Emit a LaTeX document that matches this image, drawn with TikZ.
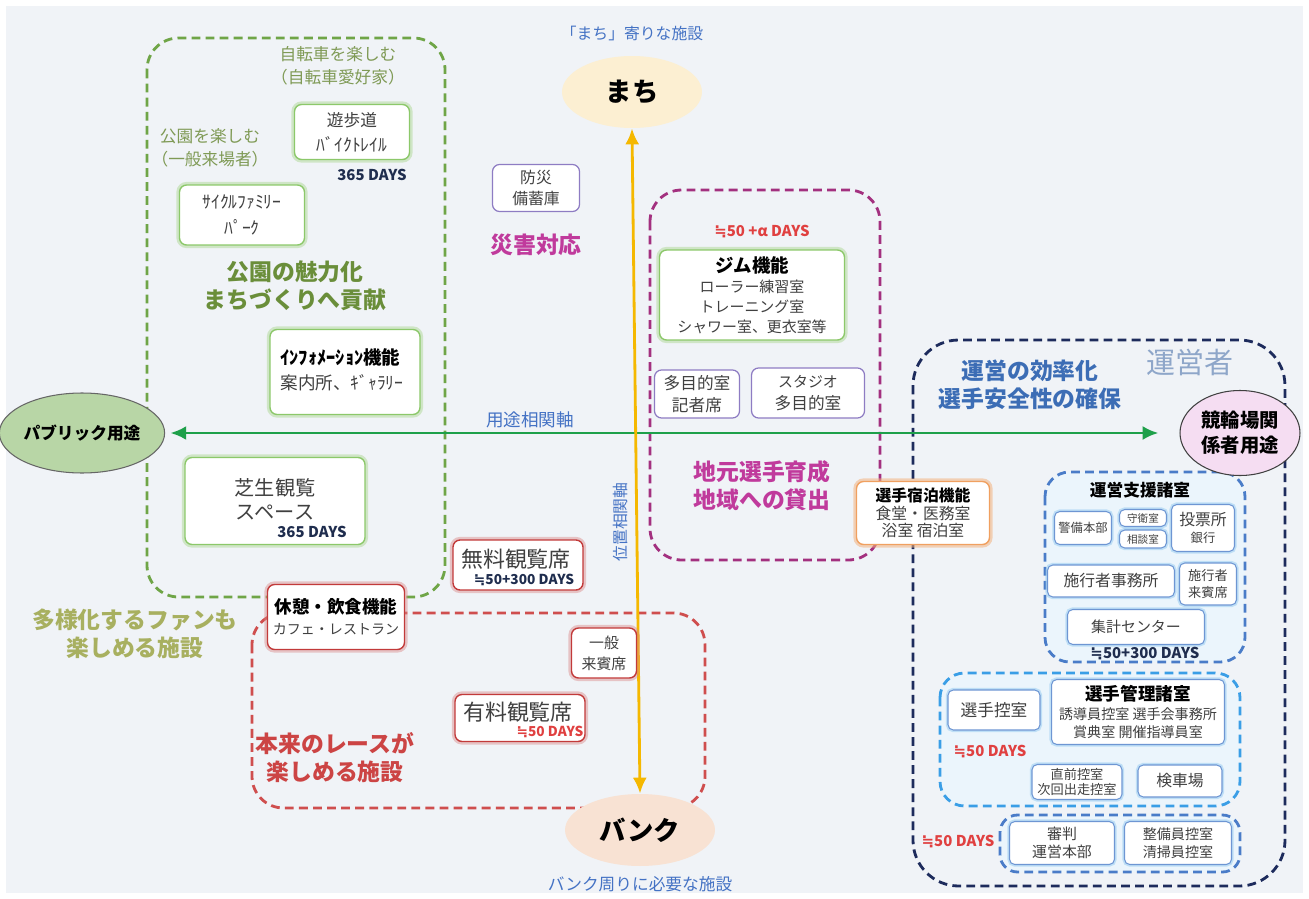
\documentclass[tikz,border=0pt]{standalone}
\usepackage{fontspec}
\setmainfont{Noto Sans CJK JP}
\newfontfamily\symfont{DejaVu Sans}
\usetikzlibrary{shapes.geometric,arrows.meta}

\definecolor{bgc}{HTML}{F0F3F7}
\definecolor{grpG}{HTML}{6FA547}
\definecolor{grpM}{HTML}{A3307F}
\definecolor{grpR}{HTML}{CF4E4E}
\definecolor{grpN}{HTML}{1D2B5C}
\definecolor{grpB}{HTML}{4A7CC8}
\definecolor{grpL}{HTML}{3A9EE6}
\definecolor{glowG}{HTML}{8CC86A}
\definecolor{glowR}{HTML}{C23A3A}
\definecolor{glowO}{HTML}{F0A060}
\definecolor{glowP}{HTML}{8E7CC3}
\definecolor{txtgray}{HTML}{404040}
\definecolor{txtolive}{HTML}{7F9A55}
\definecolor{txtparkG}{HTML}{6A8E3A}
\definecolor{txtkhaki}{HTML}{A8B060}
\definecolor{txtred}{HTML}{CC4444}
\definecolor{txtmag}{HTML}{C03A9C}
\definecolor{txtblue}{HTML}{3C6DB5}
\definecolor{txtaxis}{HTML}{4472C4}
\definecolor{txtop}{HTML}{8EA6C9}
\definecolor{txtnavy}{HTML}{1F2D4E}
\definecolor{daysred}{HTML}{E04040}
\definecolor{arrG}{HTML}{1EA04A}
\definecolor{arrO}{HTML}{F5B800}
\definecolor{machiF}{HTML}{FCEFD2}
\definecolor{bankF}{HTML}{F8E2D3}
\definecolor{publicF}{HTML}{B8D6A6}
\definecolor{staffF}{HTML}{F5DDF2}

\newcommand{\fsz}[1]{\fontsize{#1}{\fpeval{#1*1.3}}\selectfont}
\newcommand{\nearly}{{\symfont ≒}}

\tikzset{
  box/.style={rounded corners=4pt, fill=white, align=center, inner sep=1pt, text=txtgray, font=\fsz{9}},
  gbox/.style={box, draw=glowG, line width=0.8pt, preaction={draw=glowG!70, line width=3.5pt, opacity=0.5}},
  rbox/.style={box, draw=glowR, line width=0.8pt, preaction={draw=glowR!60, line width=3.5pt, opacity=0.45}},
  obox/.style={box, draw=glowO, line width=0.8pt, preaction={draw=glowO!80, line width=3.5pt, opacity=0.55}},
  pbox/.style={box, draw=glowP, line width=0.7pt},
  bbox/.style={box, rounded corners=3pt, draw=grpB!80, line width=0.6pt, preaction={draw=grpL!60, line width=2.5pt, opacity=0.45}},
  grp/.style={dash pattern=on 5pt off 3pt, line width=1.6pt, rounded corners=18pt},
  oval/.style={ellipse, draw=gray!80!black, line width=0.6pt, inner sep=0pt, align=center},
  lbl/.style={align=center, inner sep=0pt},
  head/.style={lbl, font=\bfseries\fontsize{13}{16}\selectfont},
  days/.style={lbl, font=\bfseries\fsz{8.5}, text=txtnavy},
  rdays/.style={lbl, font=\bfseries\fsz{8.5}, text=daysred},
  axisarrow/.style={{Latex[length=9pt,width=8pt]}-{Latex[length=9pt,width=8pt]}, line width=1.6pt}
}

\begin{document}
\begin{tikzpicture}[x=0.02cm, y=-0.02cm]
\useasboundingbox (0,0) rectangle (1309,899);
\fill[white] (0,0) rectangle (1309,899);
\fill[bgc] (6,6) rectangle (1303,893);

% group frames
\draw[grp, draw=grpG] (147,38) rectangle (445,597);
\draw[grp, draw=grpM] (650,190) rectangle (880,560);
\draw[grp, draw=grpR] (252,613) rectangle (705,808);
\draw[grp, draw=grpN, rounded corners=26pt] (913,340) rectangle (1285,886);
\draw[grp, draw=grpB, fill=grpL!10, rounded corners=14pt] (1045,472) rectangle (1245,662);
\draw[grp, draw=grpL, fill=grpL!10, rounded corners=14pt] (940,673) rectangle (1240,806);
\draw[grp, draw=grpB, fill=grpL!10, rounded corners=10pt] (1000,815) rectangle (1240,872);

% ovals
\node[oval, fill=publicF, minimum width=3.0cm, minimum height=1.6cm, font=\bfseries\fsz{9.5}] (public) at (82,433) {パブリック用途};
\node[oval, draw=gray!50!black, fill=staffF, minimum width=2.4cm, minimum height=1.7cm, font=\bfseries\fsz{11}] (staff) at (1240,433) {競輪場関\\係者用途};
\node[oval, draw=none, fill=machiF, minimum width=2.8cm, minimum height=1.44cm, font=\bfseries\fsz{15}] (machi) at (632,92) {まち};
\node[oval, draw=none, fill=bankF, minimum width=3.0cm, minimum height=1.44cm, font=\bfseries\fsz{15}] (bank) at (640,830) {バンク};

% axes
\draw[axisarrow, draw=arrG, fill=arrG, shorten <=3pt, shorten >=12pt] (public.east) -- (staff.west);
\draw[axisarrow, draw=arrO, fill=arrO] (machi.south) -- (bank.north);
\node[lbl, text=txtaxis, font=\fsz{10}] (useaxis) at (530,420) {用途相関軸};
\node[lbl, text=txtaxis, font=\fsz{9}, rotate=90] (posaxis) at (620,522) {位置相関軸};
\node[lbl, text=txtaxis, font=\fsz{9}] (machitag) at (632,33) {「まち」寄りな施設};
\node[lbl, text=txtaxis, font=\fsz{9.5}] (banktag) at (640,884) {バンク周りに必要な施設};

% park side
\node[lbl, text=txtolive, font=\fontsize{9.5}{13}\selectfont] (bikefan) at (338,66) {自転車を楽しむ\\（自転車愛好家）};
\node[lbl, text=txtolive, font=\fontsize{9.5}{13}\selectfont] (parkfan) at (210,148) {公園を楽しむ\\（一般来場者）};
\node[gbox, minimum width=2.3cm, minimum height=1.1cm, font=\fontsize{9.5}{14}\selectfont] (walk) at (352,132) {遊歩道\\{\fsz{10}ﾊﾞｲｸﾄﾚｲﾙ}};
\node[days] (walkdays) at (372,175) {365 DAYS};
\node[gbox, minimum width=2.5cm, minimum height=1.2cm, font=\fontsize{10}{15}\selectfont] (cycle) at (242,215) {ｻｲｸﾙﾌｧﾐﾘｰ\\ﾊﾟｰｸ};
\node[head, text=txtparkG] (parkhead) at (295,286) {公園の魅力化\\まちづくりへ貢献};
\node[gbox, minimum width=3.0cm, minimum height=1.7cm] (info) at (345,372) {};
\node[lbl, align=left, text=txtgray, font=\fontsize{10}{14.5}\selectfont] (infotxt) at (342,370) {{\bfseries\color{black}\fsz{10.5}ｲﾝﾌｫﾒｰｼｮﾝ機能}\\案内所、ｷﾞｬﾗﾘｰ};
\node[gbox, minimum width=3.6cm, minimum height=1.74cm] (lawn) at (275,501) {};
\node[lbl, text=txtgray, font=\fontsize{11.5}{13.6}\selectfont] (lawntxt) at (275,499) {芝生観覧\\スペース};
\node[days] (lawndays) at (312,532) {365 DAYS};
\node[head, text=txtkhaki] (fanhead) at (135,634) {多様化するファンも\\楽しめる施設};

% disaster
\node[pbox, minimum width=1.74cm, minimum height=0.94cm, font=\fontsize{9}{12}\selectfont] (bousai) at (536,188) {防災\\備蓄庫};
\node[head, text=txtmag] (disaster) at (536,245) {災害対応};

% local players
\node[rdays] (gymdays) at (762,232) {\nearly 50 +α DAYS};
\node[gbox, minimum width=3.7cm, minimum height=1.8cm, font=\fontsize{8.5}{11.3}\selectfont] (gym) at (752,295) {{\bfseries\color{black}\fsz{10.5}ジム機能}\\ローラー練習室\\トレーニング室\\シャワー室、更衣室等};
\node[pbox, minimum width=1.7cm, minimum height=0.96cm, font=\fontsize{9.5}{12.5}\selectfont] (multi) at (697,394) {多目的室\\記者席};
\node[pbox, minimum width=2.26cm, minimum height=1.0cm, font=\fontsize{9.5}{12.5}\selectfont] (studio) at (808,393) {{\fsz{8.5}スタジオ}\\多目的室};
\node[head, text=txtmag] (local) at (762,486) {地元選手育成\\地域への貸出};
\node[obox, minimum width=2.66cm, minimum height=1.26cm, font=\fontsize{9}{10}\selectfont] (lodge) at (923,513) {{\bfseries\color{black}選手宿泊機能}\\食堂・医務室\\浴室\ 宿泊室};

% race side
\node[rbox, minimum width=2.74cm, minimum height=1.3cm, font=\fontsize{8}{12}\selectfont] (rest) at (336,617) {{\bfseries\color{black}\fsz{10}休憩・飲食機能}\\カフェ・レストラン};
\node[rbox, minimum width=2.6cm, minimum height=1.0cm] (free) at (518,565) {};
\node[lbl, text=txtgray, font=\fsz{12.5}] (freetxt) at (516,559) {無料観覧席};
\node[days, font=\bfseries\fsz{7.8}] (freedays) at (524,580) {\nearly 50+300 DAYS};
\node[rbox, minimum width=1.3cm, minimum height=1.0cm, font=\fontsize{8.5}{12}\selectfont] (guest) at (604,653) {一般\\来賓席};
\node[rbox, minimum width=2.6cm, minimum height=0.94cm] (paid) at (520,718) {};
\node[lbl, text=txtgray, font=\fsz{12.5}] (paidtxt) at (518,712) {有料観覧席};
\node[rdays, font=\bfseries\fsz{7.8}] (paiddays) at (550,732) {\nearly 50 DAYS};
\node[head, text=txtred] (racehead) at (335,758) {本来のレースが\\楽しめる施設};

% operator side
\node[head, text=txtblue] (opeff) at (1030,385) {運営の効率化\\選手安全性の確保};
\node[lbl, text=txtop, font=\fsz{16.5}] (operator) at (1190,362) {運営者};

\node[lbl, font=\bfseries\fsz{9.5}, text=black] (suptitle) at (1140,490) {運営支援諸室};
\node[bbox, minimum width=1.14cm, minimum height=0.66cm, font=\fsz{7}] (keibi) at (1083,528) {警備本部};
\node[bbox, minimum width=0.94cm, minimum height=0.34cm, font=\fsz{6}] (shuei) at (1143,518) {守衛室};
\node[bbox, minimum width=0.94cm, minimum height=0.36cm, font=\fsz{6}] (soudan) at (1143,539) {相談室};
\node[bbox, minimum width=1.26cm, minimum height=0.94cm, font=\fsz{9}] (vote) at (1203,528) {投票所\\[-2pt]{\fsz{7}銀行}};
\node[bbox, minimum width=2.54cm, minimum height=0.64cm, font=\fsz{9}] (office) at (1111,581) {施行者事務所};
\node[bbox, minimum width=1.14cm, minimum height=0.84cm, font=\fontsize{7.5}{9.5}\selectfont] (vipseat) at (1208,584) {施行者\\来賓席};
\node[bbox, minimum width=2.74cm, minimum height=0.7cm, font=\fsz{8.5}] (count) at (1136,627) {集計センター};
\node[days] (supdays) at (1145,654) {\nearly 50+300 DAYS};

\node[bbox, minimum width=1.84cm, minimum height=0.8cm, font=\fsz{9.5}] (hikae) at (994,710) {選手控室};
\node[bbox, minimum width=3.46cm, minimum height=1.3cm, font=\fontsize{8}{10.8}\selectfont] (kanri) at (1138,712) {{\bfseries\color{black}\fsz{10}選手管理諸室}\\誘導員控室\ 選手会事務所\\賞典室\ 開催指導員室};
\node[rdays] (plydays) at (990,752) {\nearly 50 DAYS};
\node[bbox, minimum width=1.8cm, minimum height=0.7cm, font=\fontsize{7.5}{9}\selectfont] (chokuzen) at (1077,782) {直前控室\\次回出走控室};
\node[bbox, minimum width=1.68cm, minimum height=0.64cm, font=\fsz{9}] (kensha) at (1180,781) {検車場};

\node[rdays] (jdgdays) at (958,842) {\nearly 50 DAYS};
\node[bbox, minimum width=2.1cm, minimum height=0.86cm, font=\fontsize{8.5}{10.5}\selectfont] (shinpan) at (1062,843) {審判\\運営本部};
\node[bbox, minimum width=2.14cm, minimum height=0.86cm, font=\fontsize{8}{10.5}\selectfont] (seibi) at (1178,843) {整備員控室\\清掃員控室};
\end{tikzpicture}
\end{document}
